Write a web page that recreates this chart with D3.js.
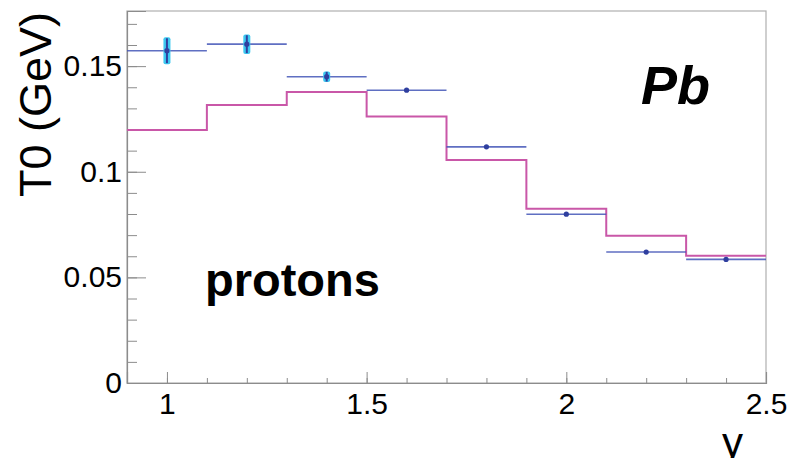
<!DOCTYPE html>
<html>
<head>
<meta charset="utf-8">
<script src="https://cdn.jsdelivr.net/npm/d3@7"></script>
<style>
  html, body { margin: 0; padding: 0; background: #ffffff; }
  #chart { width: 790px; height: 458px; }
  text { font-family: "Liberation Sans", Arial, Helvetica, sans-serif; }
</style>
</head>
<body>
<div id="chart"></div>
<script>
// bin edges of rapidity y
const binEdges = [0.9, 1.1, 1.3, 1.5, 1.7, 1.9, 2.1, 2.3, 2.5];
// data points (bin centres) with T0 values and errors
const dataY = [1.0, 1.2, 1.4, 1.6, 1.8, 2.0, 2.2, 2.4];
const dataT0 = [0.1573, 0.1604, 0.1450, 0.1386, 0.1118, 0.0799, 0.0620, 0.0585];
const dataErr = [0.0064, 0.0046, 0.0025, 0.0006, 0.0006, 0.0006, 0.0006, 0.0008];
// model histogram (step line)
const modelT0 = [0.1198, 0.1316, 0.1378, 0.1261, 0.1056, 0.0825, 0.0697, 0.0602];

const xTicksMajor = [1, 1.5, 2, 2.5];
const yTicksMajor = [0, 0.05, 0.1, 0.15];

const margin = { top: 11, right: 24, bottom: 75, left: 127 };
const W = 790, H = 458;
const width = W - margin.left - margin.right;
const height = H - margin.top - margin.bottom;

const colors = {
    frame: '#b0b0b0',
    axis: '#8c8c8c',
    data: '#4456b8',
    dataDark: '#2f3f9f',
    sys: '#3cc8f0',
    model: '#c957a8'
};

const svg = d3.select('#chart')
    .append('svg')
    .attr('width', W)
    .attr('height', H)
    .append('g')
    .attr('transform', `translate(${margin.left},${margin.top})`);

const x = d3.scaleLinear().domain([0.9, 2.5]).range([0, width]);
const y = d3.scaleLinear().domain([0, 0.1761]).range([height, 0]);

// frame
svg.append('rect')
    .attr('x', 0).attr('y', 0)
    .attr('width', width).attr('height', height)
    .attr('fill', 'none')
    .attr('stroke', colors.frame)
    .attr('stroke-width', 1.2);

// minor ticks
svg.append('g')
    .attr('transform', `translate(0,${height})`)
    .call(d3.axisBottom(x).tickValues(d3.range(9, 26).map(d => d / 10)).tickSize(-5).tickFormat(''))
    .call(g => g.select('.domain').remove())
    .call(g => g.selectAll('line').attr('stroke', colors.axis));

svg.append('g')
    .call(d3.axisLeft(y).tickValues(d3.range(0, 18).map(d => d / 100)).tickSize(-10).tickFormat(''))
    .call(g => g.select('.domain').remove())
    .call(g => g.selectAll('line').attr('stroke', colors.axis));

// major axes
svg.append('g')
    .attr('transform', `translate(0,${height})`)
    .call(d3.axisBottom(x).tickValues(xTicksMajor).tickSize(-11).tickPadding(10).tickFormat(d3.format('')))
    .call(g => g.select('.domain').attr('stroke', colors.axis).attr('stroke-width', 1.2))
    .call(g => g.selectAll('line').attr('stroke', colors.axis))
    .call(g => g.selectAll('text').attr('font-size', 30).attr('fill', '#000')
        .style('font-family', '"Liberation Sans", Arial, sans-serif'));

svg.append('g')
    .call(d3.axisLeft(y).tickValues(yTicksMajor).tickSize(-19).tickPadding(5).tickFormat(d3.format('')))
    .call(g => g.select('.domain').attr('stroke', colors.axis).attr('stroke-width', 1.2))
    .call(g => g.selectAll('line').attr('stroke', colors.axis))
    .call(g => g.selectAll('text').attr('font-size', 30).attr('fill', '#000')
        .style('font-family', '"Liberation Sans", Arial, sans-serif'));

// model step histogram
const stepPts = [];
modelT0.forEach((v, i) => {
    stepPts.push([binEdges[i], v]);
    stepPts.push([binEdges[i + 1], v]);
});
svg.append('path')
    .datum(stepPts)
    .attr('fill', 'none')
    .attr('stroke', colors.model)
    .attr('stroke-width', 2)
    .attr('d', d3.line().x(d => x(d[0])).y(d => y(d[1])));

// data: horizontal bin-width bars
const pts = dataY.map((v, i) => ({ y: v, t: dataT0[i], e: dataErr[i], lo: binEdges[i], hi: binEdges[i + 1] }));

svg.append('g').selectAll('line')
    .data(pts)
    .enter().append('line')
    .attr('x1', d => x(d.lo))
    .attr('x2', d => x(d.hi))
    .attr('y1', d => y(d.t))
    .attr('y2', d => y(d.t))
    .attr('stroke', colors.data)
    .attr('stroke-width', 1.6)
    .attr('opacity', 0.85);

// systematic boxes (cyan)
svg.append('g').selectAll('rect')
    .data(pts.filter(d => d.e > 0.001))
    .enter().append('rect')
    .attr('x', d => x(d.y) - 3.5)
    .attr('width', 7)
    .attr('y', d => y(d.t + d.e))
    .attr('height', d => y(d.t - d.e) - y(d.t + d.e))
    .attr('rx', 2)
    .attr('fill', colors.sys);

// statistical error bars
svg.append('g').selectAll('line')
    .data(pts)
    .enter().append('line')
    .attr('x1', d => x(d.y))
    .attr('x2', d => x(d.y))
    .attr('y1', d => y(d.t + d.e * 0.92))
    .attr('y2', d => y(d.t - d.e * 0.92))
    .attr('stroke', colors.dataDark)
    .attr('stroke-width', 2);

// markers
svg.append('g').selectAll('circle')
    .data(pts)
    .enter().append('circle')
    .attr('cx', d => x(d.y))
    .attr('cy', d => y(d.t))
    .attr('r', 2.6)
    .attr('fill', colors.dataDark);

// axis titles
d3.select('svg').append('text')
    .attr('transform', 'translate(51,12) rotate(-90)')
    .attr('text-anchor', 'end')
    .attr('font-size', 45)
    .attr('fill', '#000')
    .text('T0 (GeV)');

d3.select('svg').append('text')
    .attr('x', 743)
    .attr('y', 457)
    .attr('text-anchor', 'end')
    .attr('font-size', 42)
    .attr('fill', '#000')
    .text('y');

// labels
d3.select('svg').append('text')
    .attr('x', 205)
    .attr('y', 296)
    .attr('font-size', 47)
    .attr('font-weight', 'bold')
    .attr('fill', '#000')
    .text('protons');

d3.select('svg').append('text')
    .attr('x', 641)
    .attr('y', 104)
    .attr('font-size', 54)
    .attr('font-weight', 'bold')
    .attr('font-style', 'italic')
    .attr('fill', '#000')
    .text('Pb');
</script>
</body>
</html>
